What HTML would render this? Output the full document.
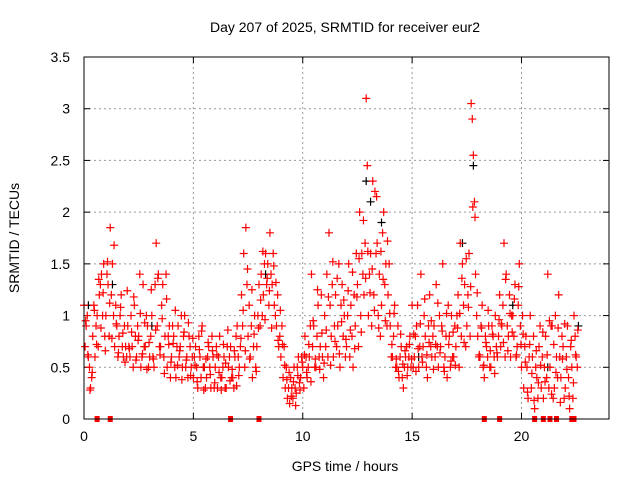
<!DOCTYPE html>
<html><head><meta charset="utf-8"><style>
body{margin:0;background:#fff}
svg{display:block;font-family:"Liberation Sans",sans-serif}
</style></head><body>
<svg id="chart" width="640" height="480" viewBox="0 0 640 480" xmlns="http://www.w3.org/2000/svg">
<rect width="640" height="480" fill="#fff"/>
<text x="345" y="32" font-size="14" text-anchor="middle" fill="#000">Day 207 of 2025, SRMTID for receiver eur2</text>
<text x="345" y="471" font-size="14" text-anchor="middle" fill="#000">GPS time / hours</text>
<text transform="translate(19,238) rotate(-90)" font-size="14" text-anchor="middle" fill="#000">SRMTID / TECUs</text>
<g id="grid"></g>
<g id="ticks"></g>
<g id="marks"></g>
<rect x="84" y="57" width="525" height="362" fill="none" stroke="#000" stroke-width="1"/>
</svg>
<script>
const xTicks=[0,5,10,15,20];
const yTicks=[0,0.5,1,1.5,2,2.5,3,3.5];
const yTickLabels=["0","0.5","1","1.5","2","2.5","3","3.5"];
const step=0.1;
const redA=[1.1,0.9,0.6,0.3,0.8,0.6,1.0,1.2,1.4,1.5,
1.0,1.3,1.85,1.5,0.7,0.9,0.8,1.2,0.6,0.7,
0.9,0.6,0.7,1.1,0.6,0.8,0.5,1.3,0.7,0.9,
0.6,1.0,0.5,1.7,1.4,0.7,1.3,0.8,0.5,0.9,
0.6,0.8,0.4,0.9,0.7,0.5,1.0,0.6,0.8,0.5,
0.4,0.7,0.3,0.6,0.9,0.5,0.4,0.7,0.3,0.6,
0.5,0.3,0.8,0.4,0.6,0.3,0.5,0.7,0.4,0.6,
0.9,0.5,1.2,1.6,1.85,0.8,0.6,0.4,1.0,0.7,
1.3,1.4,1.2,1.6,1.5,1.8,1.3,1.1,0.9,0.7,
0.6,0.4,0.3,0.2,0.15,0.3,0.5,0.25,0.6,0.4,
0.5,0.8,0.4,0.6,1.4,0.9,0.5,1.1,0.7,0.6,
1.0,1.4,1.8,0.8,0.6,1.2,0.9,0.5,1.3,1.0,
0.7,1.5,1.1,0.5,0.9,1.3,2.0,1.6,1.2,3.1,
1.0,1.6,2.3,2.2,1.7,1.4,1.1,2.0,1.5,1.2,
0.9,0.6,1.1,0.5,0.4,0.7,0.3,0.6,0.5,0.8,
1.1,0.6,0.9,0.5,1.4,0.7,0.8,0.4,1.2,0.6,
0.9,1.3,0.5,0.7,1.5,0.6,0.4,0.8,1.0,0.6,
0.7,1.2,1.7,1.5,1.3,0.9,1.6,3.05,2.55,1.4,
0.8,0.6,1.1,0.4,0.7,0.9,0.5,0.8,1.0,0.6,
1.2,0.9,1.7,1.4,0.8,0.6,1.0,1.3,0.7,1.5,
0.5,0.3,0.8,0.2,1.0,0.6,0.1,0.4,0.7,0.3,
0.2,0.8,1.4,0.5,0.9,0.3,0.6,1.2,0.4,0.7,
0.3,0.9,0.1,0.5,1.0,0.6];
const redB=[0.7,1.0,0.5,0.4,1.1,0.9,0.7,1.3,1.0,0.8,
1.4,0.8,1.2,1.0,1.1,0.6,1.0,0.7,0.9,0.6,
0.7,1.0,0.5,0.8,0.9,1.4,0.6,0.7,1.0,0.5,
0.8,0.6,1.3,0.9,0.7,1.1,0.6,1.4,0.8,0.4,
0.9,0.5,0.7,0.6,1.0,0.8,0.5,0.4,0.7,0.6,
0.6,0.5,0.8,0.4,0.5,0.3,0.6,0.5,0.8,0.3,
0.7,0.6,0.4,0.5,0.3,0.7,0.6,0.4,0.3,0.8,
0.6,0.7,0.9,0.5,1.3,1.1,0.9,0.7,0.5,1.0,
0.9,1.0,1.5,1.3,1.1,1.4,1.6,1.0,1.2,0.8,
0.9,0.7,0.5,0.3,0.4,0.2,0.3,0.5,0.35,0.6,
0.3,0.6,0.5,0.9,0.7,0.5,0.8,0.6,1.2,0.4,
0.7,0.6,1.1,1.3,0.9,0.7,1.5,1.1,0.8,0.6,
1.0,0.6,0.8,1.2,1.6,0.7,1.0,1.4,1.7,2.45,
1.4,0.9,1.2,1.6,1.0,0.8,1.8,1.3,0.9,1.5,
0.6,0.8,0.5,0.9,0.6,0.4,0.5,0.7,0.6,0.5,
0.5,0.8,1.1,0.7,0.6,1.0,0.5,0.9,0.7,0.8,
0.6,0.7,1.0,0.9,0.5,0.8,1.1,0.5,0.6,0.9,
1.0,0.5,0.8,1.1,0.7,1.2,0.8,2.9,2.1,1.0,
0.6,0.9,0.5,0.8,0.6,0.5,0.9,0.6,0.7,0.8,
0.7,1.1,0.6,0.9,1.2,1.0,0.8,0.6,1.1,0.9,
1.0,0.7,0.5,0.6,0.3,0.8,0.5,0.2,0.9,0.6,
0.5,0.4,0.3,0.9,0.2,1.0,0.4,0.6,0.8,0.2,
0.6,0.4,0.7,0.2,0.8,0.5];
const redC=[0.95,0.62,0.28,0.45,1.05,0.72,1.35,0.88,1.22,0.66,
1.52,1.12,0.78,1.68,0.92,0.64,1.08,0.83,0.55,1.24,
0.68,0.84,1.18,0.57,0.76,1.02,0.63,0.93,0.48,0.74,
1.25,0.58,0.86,1.36,0.62,0.97,0.44,1.16,0.72,0.55,
0.73,1.05,0.52,0.66,0.38,0.84,0.57,0.93,0.42,0.78,
0.52,0.36,0.67,0.85,0.28,0.58,0.74,0.43,0.66,0.35,
0.62,0.45,0.28,0.72,0.54,0.86,0.37,0.48,0.66,0.32,
0.42,0.78,1.05,0.66,1.45,0.58,1.25,0.82,0.46,0.88,
1.15,1.62,0.96,1.36,1.24,0.88,1.48,1.32,0.76,1.05,
0.72,0.52,0.38,0.45,0.22,0.36,0.13,0.42,0.28,0.55,
0.62,0.45,0.72,0.36,0.95,0.58,1.25,0.48,0.83,0.54,
0.86,1.18,0.52,1.52,0.75,1.36,0.63,0.94,1.15,0.77,
1.24,0.86,1.42,0.68,1.18,1.55,0.84,1.92,1.36,1.62,
1.22,1.45,1.05,2.15,0.88,1.62,1.35,0.95,1.72,1.02,
0.72,1.02,0.58,0.46,0.82,0.53,0.66,0.42,0.72,0.58,
0.82,0.46,0.68,0.92,0.55,1.16,0.62,0.74,0.95,0.48,
0.72,1.12,0.64,0.85,0.46,1.02,0.72,0.56,0.84,0.52,
0.88,1.02,1.36,0.74,1.55,1.08,1.28,2.05,1.95,1.22,
0.62,0.88,0.52,0.74,1.05,0.66,0.82,0.44,0.64,0.96,
0.92,0.74,1.35,0.66,1.02,0.84,1.16,0.62,1.28,0.72,
0.82,0.55,0.26,0.72,0.44,0.18,0.66,0.35,0.52,0.84,
0.36,0.62,0.95,0.24,0.72,0.45,0.88,0.16,0.58,0.92,
0.48,0.22,0.76,0.35,0.62,0.86];
const blackTimes=[0.2,1.3,3.1,5.5,8.3,12.9,13.1,13.6,15.3,17.3,17.8,19.6,21.2,22.6];
const blackValues=[1.1,1.3,0.9,0.5,1.4,2.3,2.1,1.9,0.6,1.7,2.45,1.1,0.5,0.9];
const zeroTimes=[0.6,1.2,6.7,8.0,18.3,19.0,20.6,21.0,21.3,21.6,22.3,22.4];
const X0=84,X1=609,Y0=419,Y1=57,XMAX=24,YMAX=3.5;
function sx(v){return X0+(X1-X0)*v/XMAX;}
function sy(v){return Y0-(Y0-Y1)*v/YMAX;}
const NS="http://www.w3.org/2000/svg";
function mk(tag,attrs,parent){const e=document.createElementNS(NS,tag);for(const k in attrs)e.setAttribute(k,attrs[k]);parent.appendChild(e);return e;}
const grid=document.getElementById('grid'),ticks=document.getElementById('ticks'),marks=document.getElementById('marks');
yTicks.forEach((v,i)=>{
  const y=sy(v);
  if(i>0&&i<yTicks.length-1){const g=mk('line',{x1:X0,x2:X1,y1:y,y2:y,stroke:'#999','stroke-dasharray':'2,3'},grid);
  
  }
  mk('line',{x1:X0,x2:X0+6,y1:y,y2:y,stroke:'#000'},ticks);
  mk('line',{x1:X1-6,x2:X1,y1:y,y2:y,stroke:'#000'},ticks);
  const t=mk('text',{x:X0-14,y:y+5,'font-size':'14','text-anchor':'end',fill:'#000'},ticks);
  
  
  t.textContent=yTickLabels[i];
});
xTicks.forEach(v=>{
  const x=sx(v);
  if(v>0){const g=mk('line',{x1:x,x2:x,y1:Y0,y2:Y1,stroke:'#999','stroke-dasharray':'2,3'},grid);
  
  }
  mk('line',{x1:x,x2:x,y1:Y0,y2:Y0-6,stroke:'#000'},ticks);
  mk('line',{x1:x,x2:x,y1:Y1,y2:Y1+6,stroke:'#000'},ticks);
  const t=mk('text',{x:x,y:Y0+22,'font-size':'14','text-anchor':'middle',fill:'#000'},ticks);
  
  
  t.textContent=String(v);
});
function plus(t,v,color){
  const x=sx(t),y=sy(v);
  const p=mk('path',{d:`M${x-4},${y}h8M${x},${y-4}v8`,stroke:color,'stroke-width':'1.2',fill:'none'},marks);
  
  
}
blackTimes.forEach((t,i)=>plus(t,blackValues[i],'#000'));
redA.forEach((v,i)=>plus(i*step,v,'#f00'));
redB.forEach((v,i)=>plus(i*step+0.05,v,'#f00'));
redC.forEach((v,i)=>plus(i*step+0.075,v,'#f00'));
zeroTimes.forEach(t=>{
  const r=mk('rect',{x:sx(t)-2.5,y:Y0-3,width:5,height:6,fill:'#f00'},marks);
  
  
});
</script>
</body></html>
